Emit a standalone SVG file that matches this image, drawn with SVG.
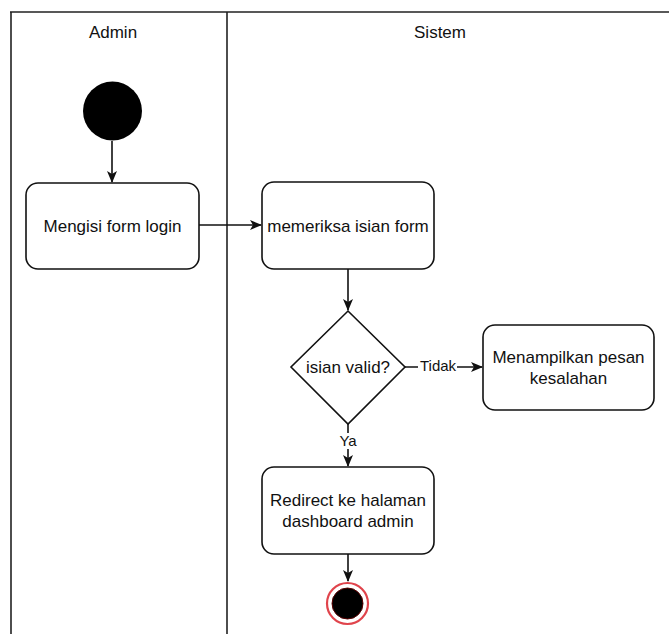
<svg xmlns="http://www.w3.org/2000/svg" width="669" height="634" viewBox="0 0 669 634">
  <style>
    .lane { stroke: #222; stroke-width: 1.6; fill: none; }
    .box { fill: #fff; stroke: #111; stroke-width: 1.6; }
    .txt { font-family: "Liberation Sans", Arial, sans-serif; font-size: 17px; fill: #111; text-anchor: middle; }
    .lbl { font-family: "Liberation Sans", Arial, sans-serif; font-size: 15px; fill: #111; text-anchor: middle; }
    .edge { stroke: #111; stroke-width: 1.6; fill: none; marker-end: url(#arrow); }
  </style>
  <defs>
    <marker id="arrow" viewBox="0 0 12 10" refX="11" refY="5" markerWidth="12" markerHeight="10" markerUnits="userSpaceOnUse" orient="auto">
      <path d="M0,0 L12,5 L0,10 L3,5 Z" fill="#111"/>
    </marker>
  </defs>
  <rect width="669" height="634" fill="#fff"/>

  <!-- swimlanes -->
  <g id="lanes">
    <path class="lane" d="M10,12 H669 M11,12 V634 M227,12 V634"/>
    <text class="txt" x="113" y="38">Admin</text>
    <text class="txt" x="440" y="38">Sistem</text>
  </g>

  <!-- connectors -->
  <g id="connectors">
    <path class="edge" d="M112,141 V182"/>
    <path class="edge" d="M199,225 H261"/>
    <path class="edge" d="M348,269 V310"/>
    <path class="edge" d="M405,367 H482"/>
    <path class="edge" d="M348,424 V466"/>
    <path class="edge" d="M348,554 V581"/>
    <rect x="418" y="357" width="39" height="17" fill="#fff"/>
    <text class="lbl" x="438" y="371">Tidak</text>
    <rect x="338" y="433" width="21" height="16" fill="#fff"/>
    <text class="lbl" x="348" y="446">Ya</text>
  </g>

  <g id="start">
    <circle cx="112.5" cy="111" r="29.5" fill="#000"/>
  </g>

  <g id="isi-form">
    <rect class="box" x="26" y="183" width="173" height="86" rx="12"/>
    <text class="txt" x="112.5" y="232">Mengisi form login</text>
  </g>

  <g id="periksa-form">
    <rect class="box" x="262" y="182" width="172" height="87" rx="12"/>
    <text class="txt" x="348" y="231.5">memeriksa isian form</text>
  </g>

  <g id="cek-valid">
    <polygon class="box" points="348,311 405,367 348,424 291,367"/>
    <text class="txt" x="348" y="373">isian valid?</text>
  </g>

  <g id="pesan-salah">
    <rect class="box" x="483" y="325" width="171" height="85" rx="12"/>
    <text class="txt" x="568.5" y="363">Menampilkan pesan</text>
    <text class="txt" x="568.5" y="384">kesalahan</text>
  </g>

  <g id="redirect">
    <rect class="box" x="262" y="467" width="172" height="87" rx="12"/>
    <text class="txt" x="348" y="506">Redirect ke halaman</text>
    <text class="txt" x="348" y="527">dashboard admin</text>
  </g>

  <g id="end">
    <circle cx="347.5" cy="603.5" r="20.5" fill="#fff" stroke="#e0444c" stroke-width="2.2"/>
    <circle cx="347.5" cy="603.5" r="15.5" fill="#000" stroke="#5a0000" stroke-width="1"/>
  </g>
</svg>
